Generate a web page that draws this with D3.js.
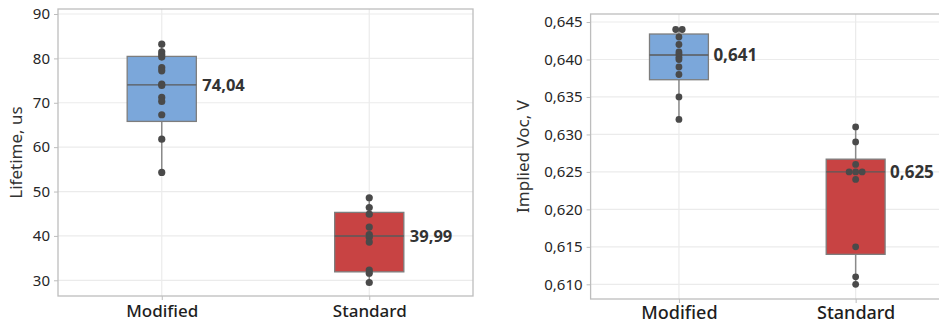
<!DOCTYPE html>
<html>
<head>
<meta charset="utf-8">
<script src="https://cdn.jsdelivr.net/npm/d3@7"></script>
<style>
  html, body { margin: 0; padding: 0; background: #fff; }
  svg { display: block; font-family: "Noto Sans", "Open Sans", sans-serif; }
</style>
</head>
<body>
<svg id="chart" width="939" height="325"></svg>
<script>
// Groups shown on both panels
const groups = ["Modified", "Standard"];

// Minority carrier lifetime, us
const lifetimeModified = [83.2, 81.5, 80.9, 80.3, 77.9, 77.2, 74.2, 73.9, 71.2, 70.3, 67.3, 61.8, 54.3];
const lifetimeStandard = [48.6, 46.4, 44.9, 42.0, 40.3, 39.7, 38.6, 32.3, 31.6, 29.5];
// box statistics: [q1, median, q3, lower whisker, upper whisker]
const lifetimeBoxModified = [65.8, 74.04, 80.45, 54.3, 83.2];
const lifetimeBoxStandard = [31.9, 39.99, 45.3, 29.5, 48.6];
const lifetimeTicks = [30, 40, 50, 60, 70, 80, 90];

// Implied open-circuit voltage, V
const vocModified = [0.644, 0.644, 0.643, 0.642, 0.641, 0.6407, 0.6403, 0.640, 0.639, 0.638, 0.635, 0.632];
const vocStandard = [0.631, 0.629, 0.626, 0.625, 0.625, 0.625, 0.624, 0.615, 0.611, 0.610];
const vocBoxModified = [0.6373, 0.6406, 0.6434, 0.632, 0.644];
const vocBoxStandard = [0.6140, 0.625, 0.6267, 0.610, 0.631];
const vocTicks = [0.610, 0.615, 0.620, 0.625, 0.630, 0.635, 0.640, 0.645];

const locale = d3.formatLocale({ decimal: ",", thousands: " ", grouping: [3], currency: ["", ""] });

const svg = d3.select("#chart");
const fills = { Modified: "#7ba7da", Standard: "#c84343" };

function drawPanel(cfg) {
  const g = svg.append("g");
  const x = d3.scalePoint().domain(groups).range([cfg.left, cfg.right]).padding(0.5);
  const y = d3.scaleLinear().domain(cfg.domain).range([cfg.bottom, cfg.top]);
  const boxW = x.step() / 3;

  // grid
  g.append("g").selectAll("line").data(cfg.ticks).join("line")
    .attr("x1", cfg.left).attr("x2", cfg.right)
    .attr("y1", d => y(d)).attr("y2", d => y(d))
    .attr("stroke", "#ebebeb").attr("stroke-width", 1.2);
  g.append("g").selectAll("line").data(groups).join("line")
    .attr("x1", d => x(d)).attr("x2", d => x(d))
    .attr("y1", cfg.top).attr("y2", cfg.bottom)
    .attr("stroke", "#ebebeb").attr("stroke-width", 1.2);

  // frame
  g.append("rect")
    .attr("x", cfg.left).attr("y", cfg.top)
    .attr("width", cfg.right - cfg.left).attr("height", cfg.bottom - cfg.top)
    .attr("fill", "none").attr("stroke", "#bdbdbd").attr("stroke-width", 1.3);

  // axes
  const yAxis = d3.axisLeft(y).tickValues(cfg.ticks).tickSize(4).tickPadding(4)
    .tickFormat(locale.format(cfg.tickFormat));
  const ya = g.append("g").attr("transform", `translate(${cfg.left},0)`).call(yAxis);
  ya.select(".domain").remove();
  ya.selectAll(".tick line").attr("stroke", "#bdbdbd");
  ya.selectAll(".tick text").attr("fill", "#262626")
    .style("font-size", cfg.tickSize + "px").style("font-family", "Noto Sans");

  const xAxis = d3.axisBottom(x).tickSize(4).tickPadding(cfg.xPad);
  const xa = g.append("g").attr("transform", `translate(0,${cfg.bottom})`).call(xAxis);
  xa.select(".domain").remove();
  xa.selectAll(".tick line").attr("stroke", "#bdbdbd");
  xa.selectAll(".tick text").attr("fill", "#1e1e1e")
    .style("font-size", cfg.catSize + "px").style("font-weight", 500)
    .style("font-family", "Noto Sans");

  // axis title
  g.append("text")
    .attr("transform", `translate(${cfg.titleX},${(cfg.top + cfg.bottom) / 2}) rotate(-90)`)
    .attr("text-anchor", "middle").attr("dominant-baseline", "middle")
    .attr("fill", "#333").style("font-size", "17px")
    .text(cfg.title);

  cfg.series.forEach(s => {
    const cx = x(s.name);
    const [q1, med, q3, lo, hi] = s.box;
    // whiskers
    g.append("line").attr("x1", cx).attr("x2", cx).attr("y1", y(q3)).attr("y2", y(hi))
      .attr("stroke", "#8a8a8a").attr("stroke-width", 1.5);
    g.append("line").attr("x1", cx).attr("x2", cx).attr("y1", y(q1)).attr("y2", y(lo))
      .attr("stroke", "#8a8a8a").attr("stroke-width", 1.5);
    // box
    g.append("rect").attr("x", cx - boxW / 2).attr("y", y(q3))
      .attr("width", boxW).attr("height", y(q1) - y(q3))
      .attr("fill", fills[s.name]).attr("stroke", "#7d7d7d").attr("stroke-width", 1.3);
    g.append("line").attr("x1", cx - boxW / 2).attr("x2", cx + boxW / 2)
      .attr("y1", y(med)).attr("y2", y(med))
      .attr("stroke", "#5a5a5a").attr("stroke-width", 1.4);

    // points, identical values spread sideways
    const counts = d3.rollup(s.values, v => v.length, d => d);
    const seen = new Map();
    const pts = s.values.map(v => {
      const n = counts.get(v), i = seen.get(v) || 0;
      seen.set(v, i + 1);
      return { v, dx: (i - (n - 1) / 2) * 6.5 };
    });
    g.append("g").selectAll("circle").data(pts).join("circle")
      .attr("cx", d => cx + d.dx).attr("cy", d => y(d.v)).attr("r", cfg.r)
      .attr("fill", "#4a4a4a");

    // median label
    g.append("text")
      .attr("x", cx + boxW / 2 + cfg.labelGap).attr("y", y(med))
      .attr("dominant-baseline", "central")
      .attr("fill", "#333").style("font-size", cfg.labelSize + "px").style("font-weight", 700)
      .text(locale.format(cfg.labelFormat)(med));
  });
}

drawPanel({
  left: 58, right: 473, top: 9, bottom: 296,
  domain: [26.46, 91.13], ticks: lifetimeTicks, tickFormat: "d",
  tickSize: 15, catSize: 17, xPad: 5, r: 3.6,
  title: "Lifetime, us", titleX: 17,
  labelFormat: ".2f", labelSize: 16.5, labelGap: 6,
  series: [
    { name: "Modified", values: lifetimeModified, box: lifetimeBoxModified },
    { name: "Standard", values: lifetimeStandard, box: lifetimeBoxStandard }
  ]
});

drawPanel({
  left: 590.6, right: 944, top: 14, bottom: 299,
  domain: [0.60804, 0.64607], ticks: vocTicks, tickFormat: ".3f",
  tickSize: 15, catSize: 18, xPad: 3, r: 3.4,
  title: "Implied Voc, V", titleX: 524,
  labelFormat: ".3f", labelSize: 17, labelGap: 5,
  series: [
    { name: "Modified", values: vocModified, box: vocBoxModified },
    { name: "Standard", values: vocStandard, box: vocBoxStandard }
  ]
});
</script>
</body>
</html>
